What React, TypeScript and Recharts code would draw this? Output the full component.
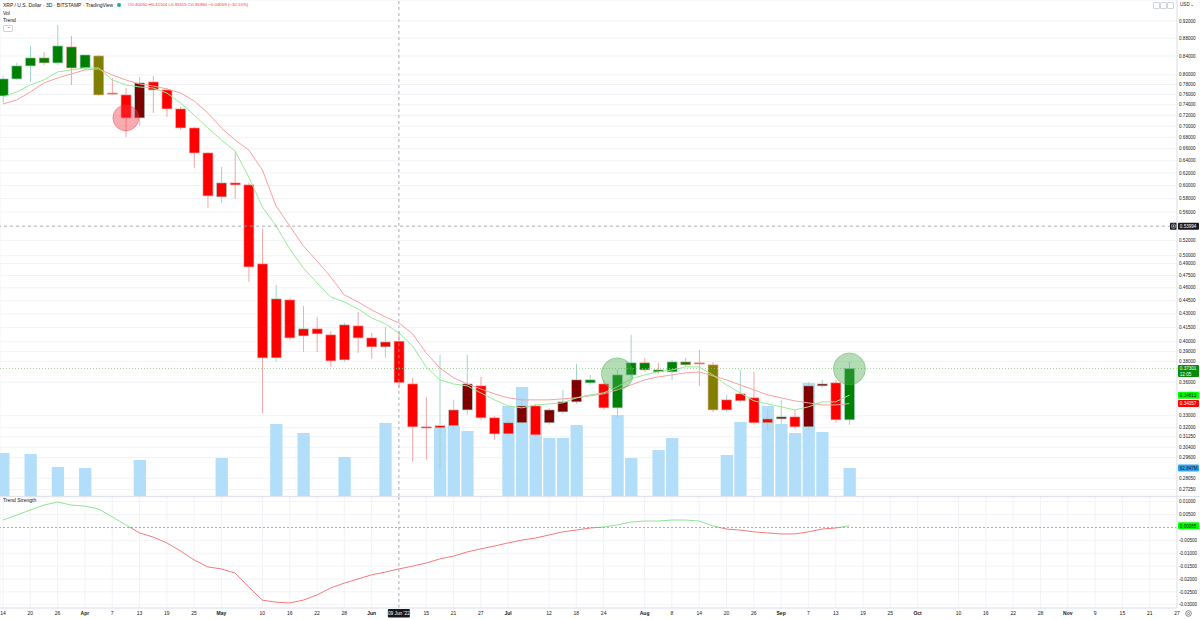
import React from 'react';
import {
  ComposedChart,
  Bar,
  Line,
  XAxis,
  YAxis,
  CartesianGrid,
  ReferenceLine,
  ReferenceDot,
} from 'recharts';

// ---------- DATA (XRP/USD, Bitstamp, 3-day candles) ----------
// day offset from 14 Mar 2022 of each candle
const candleDays = [
  0, 3, 6, 9, 12, 15, 18, 21, 24, 27, 30, 33, 36, 39, 42, 45, 48, 51, 54, 57, 60,
  63, 66, 69, 72, 75, 78, 81, 84, 87, 90, 93, 96, 99, 102, 105, 108, 111, 114, 117,
  120, 123, 126, 129, 132, 135, 138, 141, 144, 147, 150, 153, 156, 159, 162, 165,
  168, 171, 174, 177, 180, 183, 186,
];

const opens = [
  0.7572, 0.7914, 0.8186, 0.8358, 0.825, 0.86, 0.8143, 0.8401, 0.7631, 0.7592,
  0.7152, 0.7852, 0.7691, 0.7321, 0.6968, 0.653, 0.5826, 0.6041, 0.601, 0.4895,
  0.3835, 0.4458, 0.406, 0.4135, 0.4071, 0.3815, 0.4167, 0.4039, 0.3946, 0.4005,
  0.3584, 0.3206, 0.3198, 0.3215, 0.335, 0.3566, 0.3282, 0.3148, 0.324, 0.3385,
  0.324, 0.3333, 0.3421, 0.3594, 0.3584, 0.3368, 0.3669, 0.3786, 0.3717, 0.3698,
  0.3795, 0.3786, 0.3766, 0.335, 0.343, 0.3457, 0.324, 0.3273, 0.329, 0.3206,
  0.3566, 0.3594, 0.3265,
];
const highs = [
  0.7975, 0.825, 0.8622, 0.8489, 0.9105, 0.8849, 0.8423, 0.8423, 0.7934, 0.7731,
  0.7955, 0.7975, 0.7731, 0.7359, 0.6987, 0.6547, 0.6297, 0.6547, 0.6041, 0.5361,
  0.4635, 0.4481, 0.439, 0.4266, 0.4113, 0.42, 0.4322, 0.4092, 0.4156, 0.41104,
  0.3641, 0.3466, 0.3865, 0.3439, 0.3865, 0.365, 0.3299, 0.3265, 0.3457, 0.3403,
  0.3368, 0.3529, 0.3776, 0.3669, 0.3622, 0.3717, 0.4071, 0.3835, 0.3786, 0.3815,
  0.3835, 0.3915, 0.3795, 0.3484, 0.3717, 0.3698, 0.335, 0.3439, 0.335, 0.3603,
  0.3622, 0.3622, 0.3795,
];
const lows = [
  0.7436, 0.7893, 0.7852, 0.8207, 0.8207, 0.7791, 0.8101, 0.7572, 0.7592, 0.6807,
  0.7005, 0.7245, 0.717, 0.6932, 0.6281, 0.5661, 0.5735, 0.5795, 0.4672, 0.3324,
  0.3795, 0.4018, 0.3895, 0.3895, 0.3746, 0.3795, 0.3885, 0.3825, 0.3835, 0.35515,
  0.2928, 0.2943, 0.2867, 0.3189, 0.3307, 0.3265, 0.3099, 0.3132, 0.3223, 0.3124,
  0.3223, 0.3316, 0.3403, 0.3575, 0.335, 0.3282, 0.3641, 0.3698, 0.3679, 0.3622,
  0.3746, 0.3566, 0.3333, 0.3333, 0.3412, 0.3223, 0.3181, 0.3223, 0.3189, 0.3181,
  0.3548, 0.324, 0.3223,
];
const closes = [
  0.7914, 0.8186, 0.8358, 0.825, 0.8622, 0.8143, 0.8423, 0.7592, 0.7612, 0.7152,
  0.7832, 0.7691, 0.7321, 0.6968, 0.653, 0.5841, 0.6041, 0.601, 0.4857, 0.3835,
  0.447, 0.4039, 0.4135, 0.4082, 0.3805, 0.4178, 0.4039, 0.3946, 0.3997, 0.3596,
  0.3206, 0.3198, 0.3215, 0.335, 0.3584, 0.3282, 0.3148, 0.324, 0.3385, 0.314,
  0.335, 0.3421, 0.3622, 0.3622, 0.3368, 0.3669, 0.3786, 0.3717, 0.3698, 0.3795,
  0.3766, 0.3776, 0.335, 0.3439, 0.3493, 0.324, 0.3273, 0.329, 0.3206, 0.3566,
  0.3584, 0.3265, 0.37301,
];
// trend colouring of each candle: G green, R red, M maroon, O olive
const candleStates = [
  'G', 'G', 'G', 'G', 'G', 'G', 'G', 'O', 'O', 'R', 'M', 'R', 'R', 'R', 'R', 'R',
  'R', 'R', 'R', 'R', 'R', 'R', 'R', 'R', 'R', 'R', 'R', 'R', 'R', 'R', 'R', 'R',
  'R', 'R', 'M', 'R', 'R', 'R', 'M', 'R', 'M', 'M', 'M', 'G', 'R', 'G', 'G', 'G',
  'G', 'G', 'G', 'O', 'O', 'R', 'R', 'R', 'R', 'M', 'R', 'M', 'M', 'R', 'G',
];
const volumes = [
  96.5e6, null, 94.3e6, null, 65.1e6, null, 62.9e6, null, null, null,
  80.8e6, null, null, null, null, null, 85.3e6, null, null, null,
  161.6e6, null, 141.4e6, null, null, 87.6e6, null, null, 163.9e6, null,
  null, null, 152.7e6, 157.2e6, 145.9e6, null, null, 202e6, 244.7e6, 202e6,
  130.2e6, 130.2e6, 159.4e6, null, null, 181.8e6, 85.3e6, null, 103.3e6, 130.2e6,
  null, null, null, 92e6, 166.1e6, null, 202e6, 161.6e6, 141.4e6, 253.7e6,
  143.7e6, null, 62.847e6,
];
const fastTrend = [
  0.7553, 0.7651, 0.7791, 0.7893, 0.8059, 0.8101, 0.8143, 0.8143, 0.7893, 0.7791,
  0.7751, 0.7731, 0.7631, 0.7436, 0.7207, 0.6968, 0.6754, 0.6564, 0.6136, 0.5676,
  0.5403, 0.5089, 0.4844, 0.4659, 0.4493, 0.4435, 0.4355, 0.4255, 0.4189, 0.4092,
  0.3956, 0.3746, 0.3622, 0.3584, 0.3566, 0.3502, 0.3439, 0.3385, 0.3368, 0.3394,
  0.3403, 0.3412, 0.3457, 0.3484, 0.3502, 0.3557, 0.3631, 0.3669, 0.3698, 0.3717,
  0.3746, 0.3746, 0.3669, 0.3575, 0.3502, 0.343, 0.3403, 0.3377, 0.335, 0.3377,
  0.3421, 0.3421, 0.34813,
];
const slowTrend = [
  0.7417, 0.7494, 0.7651, 0.7832, 0.7934, 0.8017, 0.8101, 0.8122, 0.7996, 0.7893,
  0.7811, 0.7771, 0.7711, 0.7631, 0.7475, 0.7245, 0.6968, 0.6754, 0.6581, 0.6248,
  0.569, 0.5403, 0.513, 0.4933, 0.4733, 0.4516, 0.4435, 0.4344, 0.4266, 0.42,
  0.4082, 0.3885, 0.3737, 0.3641, 0.3584, 0.3538, 0.3493, 0.3457, 0.3439, 0.3439,
  0.3439, 0.3448, 0.3457, 0.3475, 0.3493, 0.3529, 0.3575, 0.3622, 0.365, 0.3669,
  0.3688, 0.3698, 0.366, 0.3622, 0.3575, 0.3529, 0.3484, 0.3457, 0.343, 0.3412,
  0.3394, 0.3394, 0.34057,
];
const trendStrength = [
  0.0029, 0.0048, 0.0068, 0.0087, 0.0099, 0.0087, 0.0083, 0.0072, 0.0041, 0.001,
  -0.0021, -0.0037, -0.006, -0.0091, -0.0126, -0.0153, -0.0161, -0.0177, -0.0231, -0.0282,
  -0.029, -0.0293, -0.0282, -0.0262, -0.0235, -0.0216, -0.02, -0.0184, -0.0173, -0.0161,
  -0.015, -0.0138, -0.0122, -0.0111, -0.0095, -0.0083, -0.0072, -0.006, -0.0049, -0.0041,
  -0.0029, -0.0017, -0.001, -0.0002, 0.0002, 0.001, 0.0021, 0.0025, 0.0025, 0.0029,
  0.0029, 0.0025, 0.0006, -0.0006, -0.001, -0.0017, -0.0021, -0.0025, -0.0025, -0.0017,
  -0.0006, -0.0002, 0.00065,
];
// signal circles
const signalDays = [27, 135, 186];
const signalPrices = [0.7152, 0.3679, 0.3727];
const signalKinds = ['sell', 'buy', 'buy'];

// axis ticks
const xTickDays = [
  0, 6, 12, 18, 24, 30, 36, 42, 48, 57, 63, 69, 75, 81, 93, 99, 105, 111, 120, 126,
  132, 141, 147, 153, 159, 165, 171, 177, 183, 189, 195, 201, 210, 216, 222, 228, 234,
  240, 246, 252, 258,
];
const xTickLabels = [
  '14', '20', '26', 'Apr', '7', '13', '19', '25', 'May', '10', '16', '22', '28', 'Jun',
  '15', '21', '27', 'Jul', '12', '18', '24', 'Aug', '8', '14', '20', '26', 'Sep', '7',
  '13', '19', '25', 'Oct', '10', '16', '22', '28', 'Nov', '9', '15', '21', '27',
];
const monthLabels = ['Apr', 'May', 'Jun', 'Jul', 'Aug', 'Sep', 'Oct', 'Nov'];
const priceTicks = [
  0.92, 0.88, 0.84, 0.8, 0.78, 0.76, 0.74, 0.72, 0.7, 0.68, 0.66, 0.64, 0.62, 0.6, 0.58,
  0.56, 0.52, 0.5, 0.49, 0.475, 0.46, 0.445, 0.43, 0.415, 0.4, 0.39, 0.38, 0.36, 0.33,
  0.32, 0.3125, 0.304, 0.296, 0.2805, 0.2725,
];
const strengthTicks = [0.01, 0.005, -0.005, -0.01, -0.015, -0.02, -0.025, -0.03];

const crosshairDay = 87;
const crosshairLabel = "09 Jun '22";
const crosshairPrice = 0.53994;
const lastPrice = 0.37301;
const lastCountdown = '12:05';
const lastVolume = 62.847e6;
const lastVolumeLabel = '62.847M';

// ---------- STYLE ----------
const FONT = '"Liberation Sans", Arial, sans-serif';
const BODY: Record<string, string> = { G: '#008000', R: '#ff0000', M: '#800000', O: '#808000' };
const WICK_UP = '#9fd6cc';
const WICK_DN = '#f6a5a5';
const GRID = '#f2f3f7';
const TEXT = '#131722';
const X_DOMAIN: [number, number] = [-0.66, 258];
const PRICE_DOMAIN: [number, number] = [0.2679, 0.9715];
const VOL_DOMAIN: [number, number] = [0, 1113.5e6];
const STRENGTH_DOMAIN: [number, number] = [-0.03126, 0.01184];

function Candle(props: any) {
  const { x, y, width, height, payload } = props;
  if (!payload || y == null || height == null) return null;
  const { open, close, high, low, state } = payload;
  const top = Math.min(y, y + height);
  const h = Math.abs(height);
  const lh = Math.log(high);
  const ll = Math.log(low);
  const span = lh - ll || 1e-9;
  const py = (v: number) => top + (h * (lh - Math.log(v))) / span;
  const yO = py(open);
  const yC = py(close);
  const up = close >= open;
  const wick = up ? WICK_UP : WICK_DN;
  const cx = x + width / 2;
  const bTop = Math.min(yO, yC);
  const bH = Math.max(1.2, Math.abs(yC - yO));
  return (
    <g>
      <line x1={cx} x2={cx} y1={top} y2={top + h} stroke={wick} strokeWidth={1} />
      <rect x={x} y={bTop} width={width} height={bH} fill={BODY[state]} stroke={wick} strokeWidth={0.6} />
    </g>
  );
}

function badge(lines: string[], bg: string, fg: string, icon?: boolean) {
  return (p: any) => {
    const vb = p.viewBox || {};
    const x0 = (vb.x || 0) + (vb.width || 0) + 1;
    const cy = vb.y || 0;
    const h = lines.length > 1 ? 12 : 7;
    return (
      <g>
        {icon ? (
          <g>
            <rect x={x0 - 8} y={cy - 3.5} width={7} height={7} fill={bg} rx={1} />
            <circle cx={x0 - 4.5} cy={cy} r={2.2} fill="none" stroke={fg} strokeWidth={0.5} />
            <line x1={x0 - 5.8} x2={x0 - 3.2} y1={cy} y2={cy} stroke={fg} strokeWidth={0.5} />
            <line x1={x0 - 4.5} x2={x0 - 4.5} y1={cy - 1.3} y2={cy + 1.3} stroke={fg} strokeWidth={0.5} />
          </g>
        ) : null}
        <rect x={x0} y={cy - 3.5} width={21} height={h} fill={bg} rx={1} />
        {lines.map((t, i) => (
          <text key={i} x={x0 + 1.8} y={cy + 1.7 + i * 5.5} fontSize={4.6} fill={fg}>
            {t}
          </text>
        ))}
      </g>
    );
  };
}

function timeBadge(p: any) {
  const vb = p.viewBox || {};
  const cx = vb.x || 0;
  const yb = (vb.y || 0) + (vb.height || 0) + 1;
  return (
    <g>
      <rect x={cx - 11} y={yb} width={22} height={8.5} fill={TEXT} rx={1} />
      <text x={cx} y={yb + 6} fontSize={4.8} fill="#ffffff" textAnchor="middle">
        {crosshairLabel}
      </text>
    </g>
  );
}

function XTick(props: any) {
  const { x, y, payload } = props;
  const idx = xTickDays.indexOf(payload.value);
  const label = idx >= 0 ? xTickLabels[idx] : '';
  const bold = monthLabels.includes(label);
  return (
    <text x={x} y={y + 6.8} textAnchor="middle" fontSize={5} fontWeight={bold ? 700 : 400} fill={TEXT}>
      {label}
    </text>
  );
}

export default function App() {
  const rows = candleDays.map((d, i) => ({
    day: d,
    open: opens[i],
    high: highs[i],
    low: lows[i],
    close: closes[i],
    range: [lows[i], highs[i]],
    state: candleStates[i],
    vol: volumes[i],
    fast: fastTrend[i],
    slow: slowTrend[i],
    strength: trendStrength[i],
  }));
  const sMax = Math.max(...trendStrength);
  const sMin = Math.min(...trendStrength);
  const zeroOff = sMax / (sMax - sMin);

  const small: React.CSSProperties = { position: 'absolute', fontSize: 5, color: TEXT, whiteSpace: 'nowrap', lineHeight: '6px' };

  return (
    <div style={{ position: 'absolute', left: 0, top: 0, width: 1200, height: 619, background: '#ffffff', fontFamily: FONT, overflow: 'hidden' }}>
      <div style={{ position: 'absolute', left: 0, top: 0 }}>
        <ComposedChart width={1200} height={496} data={rows} margin={{ top: 0, right: 0, bottom: 0, left: 0 }}>
          <CartesianGrid xAxisId="px" yAxisId="price" stroke={GRID} strokeWidth={1} />
          <XAxis
            xAxisId="px"
            dataKey="day"
            type="number"
            domain={X_DOMAIN}
            allowDataOverflow
            ticks={xTickDays}
            interval={0}
            height={0}
            tick={false}
            tickLine={false}
            axisLine={false}
          />
          <XAxis xAxisId="vx" dataKey="day" type="number" domain={X_DOMAIN} allowDataOverflow hide />
          <YAxis
            yAxisId="price"
            orientation="right"
            width={23}
            scale="log"
            domain={PRICE_DOMAIN}
            allowDataOverflow
            ticks={priceTicks}
            interval={0}
            tickSize={0}
            tickMargin={2}
            tickLine={false}
            axisLine={{ stroke: '#e0e3eb' }}
            tick={{ fontSize: 4.6, fill: TEXT }}
            tickFormatter={(v: number) => v.toFixed(5)}
          />
          <YAxis yAxisId="vol" domain={VOL_DOMAIN} allowDataOverflow hide />

          <Bar xAxisId="vx" yAxisId="vol" dataKey="vol" barSize={14} fill="#b3defa" isAnimationActive={false} />

          <Line xAxisId="px" yAxisId="price" dataKey="slow" stroke="#f7a1a1" strokeWidth={1} dot={false} activeDot={false} legendType="none" isAnimationActive={false} />
          <Line xAxisId="px" yAxisId="price" dataKey="fast" stroke="#95ec95" strokeWidth={1} dot={false} activeDot={false} legendType="none" isAnimationActive={false} />

          <Bar xAxisId="px" yAxisId="price" dataKey="range" barSize={10} shape={Candle} isAnimationActive={false} />

          {signalDays.map((d, i) => (
            <ReferenceDot
              key={'sig' + i}
              xAxisId="px"
              yAxisId="price"
              x={d}
              y={signalPrices[i]}
              r={signalKinds[i] === 'sell' ? 13 : 16}
              fill={signalKinds[i] === 'sell' ? '#f23645' : '#4caf50'}
              fillOpacity={0.42}
              stroke={signalKinds[i] === 'sell' ? '#f23645' : '#4caf50'}
              strokeOpacity={0.5}
              strokeWidth={0.8}
            />
          ))}

          <ReferenceLine xAxisId="px" yAxisId="price" x={crosshairDay} stroke="#9598a1" strokeDasharray="3 3" strokeWidth={0.8} />
          <ReferenceLine
            xAxisId="px"
            yAxisId="price"
            y={crosshairPrice}
            stroke="#9598a1"
            strokeDasharray="3 3"
            strokeWidth={0.8}
            label={badge([crosshairPrice.toFixed(5)], TEXT, '#ffffff', true)}
          />
          <ReferenceLine
            xAxisId="px"
            yAxisId="price"
            y={lastPrice}
            stroke="#82c982"
            strokeDasharray="1 2"
            strokeWidth={0.8}
            label={badge([lastPrice.toFixed(5), lastCountdown], '#0a8a0a', '#ffffff')}
          />
          <ReferenceLine
            xAxisId="px"
            yAxisId="price"
            y={fastTrend[fastTrend.length - 1]}
            stroke="none"
            label={badge([fastTrend[fastTrend.length - 1].toFixed(5)], '#00ff00', TEXT)}
          />
          <ReferenceLine
            xAxisId="px"
            yAxisId="price"
            y={slowTrend[slowTrend.length - 1]}
            stroke="none"
            label={badge([slowTrend[slowTrend.length - 1].toFixed(5)], '#ff0000', '#ffffff')}
          />
          <ReferenceLine
            xAxisId="vx"
            yAxisId="vol"
            y={lastVolume}
            stroke="none"
            label={badge([lastVolumeLabel], '#2ea6f2', TEXT)}
          />
        </ComposedChart>
      </div>

      <div style={{ position: 'absolute', left: 0, top: 496, width: 1200, height: 1, background: '#e0e3eb' }} />

      <div style={{ position: 'absolute', left: 0, top: 497 }}>
        <ComposedChart width={1200} height={122} data={rows} margin={{ top: 0, right: 0, bottom: 0, left: 0 }}>
          <defs>
            <linearGradient id="trendGrad" x1="0" y1="0" x2="0" y2="1">
              <stop offset={zeroOff} stopColor="#8fe48f" />
              <stop offset={zeroOff} stopColor="#f47a7a" />
            </linearGradient>
          </defs>
          <CartesianGrid stroke={GRID} strokeWidth={1} />
          <XAxis
            dataKey="day"
            type="number"
            domain={X_DOMAIN}
            allowDataOverflow
            ticks={xTickDays}
            interval={0}
            height={11}
            tickSize={0}
            tickMargin={0}
            tickLine={false}
            axisLine={{ stroke: '#e0e3eb' }}
            tick={XTick}
          />
          <YAxis
            orientation="right"
            width={23}
            domain={STRENGTH_DOMAIN}
            allowDataOverflow
            ticks={strengthTicks}
            interval={0}
            tickSize={0}
            tickMargin={2}
            tickLine={false}
            axisLine={{ stroke: '#e0e3eb' }}
            tick={{ fontSize: 4.6, fill: TEXT }}
            tickFormatter={(v: number) => v.toFixed(5)}
          />
          <ReferenceLine y={0} stroke="#9598a1" strokeDasharray="2 2" strokeWidth={0.8} />
          <Line dataKey="strength" stroke="url(#trendGrad)" strokeWidth={1} dot={false} activeDot={false} legendType="none" isAnimationActive={false} />
          <ReferenceLine x={crosshairDay} stroke="#9598a1" strokeDasharray="3 3" strokeWidth={0.8} label={timeBadge} />
          <ReferenceLine
            y={trendStrength[trendStrength.length - 1]}
            stroke="none"
            label={badge([trendStrength[trendStrength.length - 1].toFixed(5)], '#00ff00', TEXT)}
          />
        </ComposedChart>
      </div>

      {/* legend / header texts */}
      <div style={{ ...small, left: 3, top: 2, fontSize: 5 }}>XRP / U.S. Dollar · 3D · BITSTAMP · TradingView</div>
      <div style={{ position: 'absolute', left: 117, top: 3, width: 4, height: 4, borderRadius: 2, background: '#26a69a' }} />
      <div style={{ ...small, left: 128, top: 2, fontSize: 4.4, color: '#f23645' }}>O0.40050 H0.41104 L0.35515 C0.35960 −0.04059 (−10.10%)</div>
      <div style={{ ...small, left: 3, top: 10 }}>Vol</div>
      <div style={{ ...small, left: 3, top: 17 }}>Trend</div>
      <div style={{ position: 'absolute', left: 3, top: 25, width: 8, height: 5, border: '0.5px solid #d1d4dc', borderRadius: 1, fontSize: 4, lineHeight: '6px', textAlign: 'center', color: TEXT }}>⌃</div>
      <div style={{ ...small, left: 3, top: 497 }}>Trend Strength</div>

      {/* top-right toolbar */}
      {[1153, 1160, 1167].map((l, i) => (
        <div key={i} style={{ position: 'absolute', left: l, top: 2, width: 5, height: 5, border: '0.5px solid #d1d4dc', borderRadius: 1 }} />
      ))}
      <div style={{ ...small, left: 1180, top: 2, fontSize: 4.6 }}>USD⌄</div>

      {/* gear */}
      <svg style={{ position: 'absolute', left: 1184, top: 609 }} width={9} height={9}>
        <circle cx={4.5} cy={4.5} r={2.8} fill="none" stroke="#50535e" strokeWidth={0.7} />
        <circle cx={4.5} cy={4.5} r={1} fill="none" stroke="#50535e" strokeWidth={0.6} />
      </svg>
    </div>
  );
}
